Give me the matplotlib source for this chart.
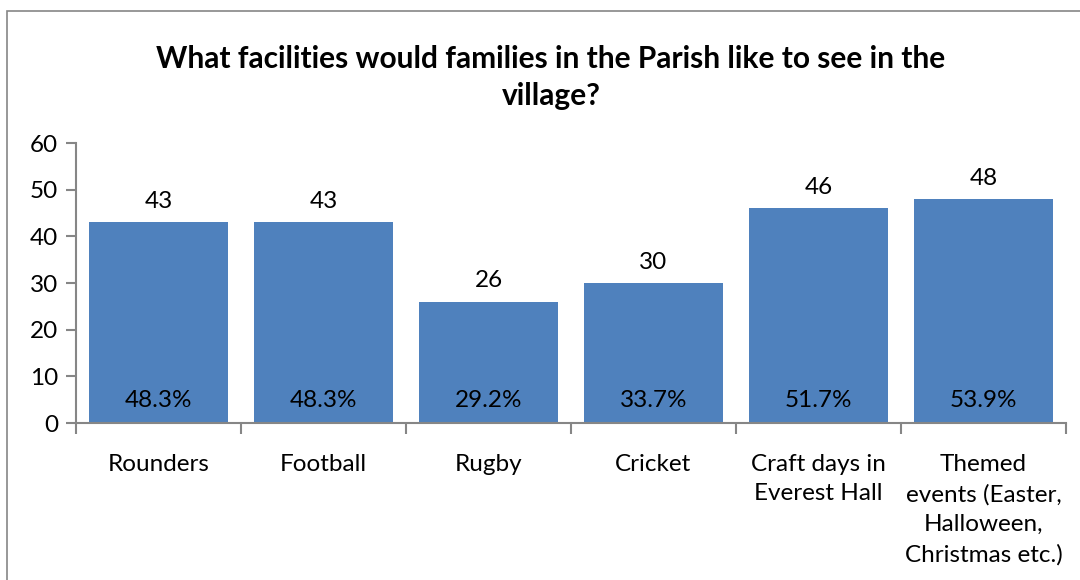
import matplotlib.pyplot as plt
import numpy as np
from matplotlib.patches import Rectangle

plt.rcParams['font.family'] = ['Lato', 'DejaVu Sans']

categories = ['Rounders', 'Football', 'Rugby', 'Cricket',
              'Craft days in\nEverest Hall',
              'Themed\nevents (Easter,\nHalloween,\nChristmas etc.)']
counts = [43, 43, 26, 30, 46, 48]
percents = ['48.3%', '48.3%', '29.2%', '33.7%', '51.7%', '53.9%']

bar_color = '#4F81BD'
axis_color = '#868686'

fig = plt.figure(figsize=(10.8, 5.8), dpi=100)
ax = fig.add_axes([76/1080, 1-423/580, 990/1080, 280/580])

# chart border (Excel style frame)
fig.patches.append(Rectangle((7/1080, -0.1), 1.2, 1-11/580+0.1,
                             transform=fig.transFigure, fill=False,
                             edgecolor=axis_color, linewidth=1.2))

x = np.arange(len(categories))
bars = ax.bar(x, counts, width=0.84, color=bar_color)

ax.set_xlim(-0.5, len(categories)-0.5)
ax.set_ylim(0, 60)
ax.set_yticks(range(0, 61, 10))
ax.set_xticks([])
ax.set_xticks(np.arange(-0.5, len(categories)), minor=True)

for s in ['top', 'right']:
    ax.spines[s].set_visible(False)
for s in ['left', 'bottom']:
    ax.spines[s].set_color(axis_color)
    ax.spines[s].set_linewidth(1.5)

ax.tick_params(axis='y', which='major', length=7, width=1.5, color=axis_color,
               labelsize=17.5, pad=6)
ax.tick_params(axis='x', which='minor', length=8, width=1.5, color=axis_color)
ax.tick_params(axis='x', which='major', length=0)

for xi, c, p in zip(x, counts, percents):
    ax.annotate(str(c), (xi, c), xytext=(0, 15), textcoords='offset points',
                ha='center', va='center', fontsize=17.5)
    ax.annotate(p, (xi, 0), xytext=(0, 16.5), textcoords='offset points',
                ha='center', va='center', fontsize=17.5)
    ax.annotate(categories[xi], (xi, 0), xytext=(0, -22), textcoords='offset points',
                ha='center', va='top', fontsize=17.5, linespacing=1.52,
                annotation_clip=False)

fig.text(551/1080, 1-77.5/580,
         'What facilities would families in the Parish like to see in the\nvillage?',
         ha='center', va='center', fontsize=21.5, fontweight='bold', linespacing=1.38)

plt.savefig('out.png', dpi=100)
